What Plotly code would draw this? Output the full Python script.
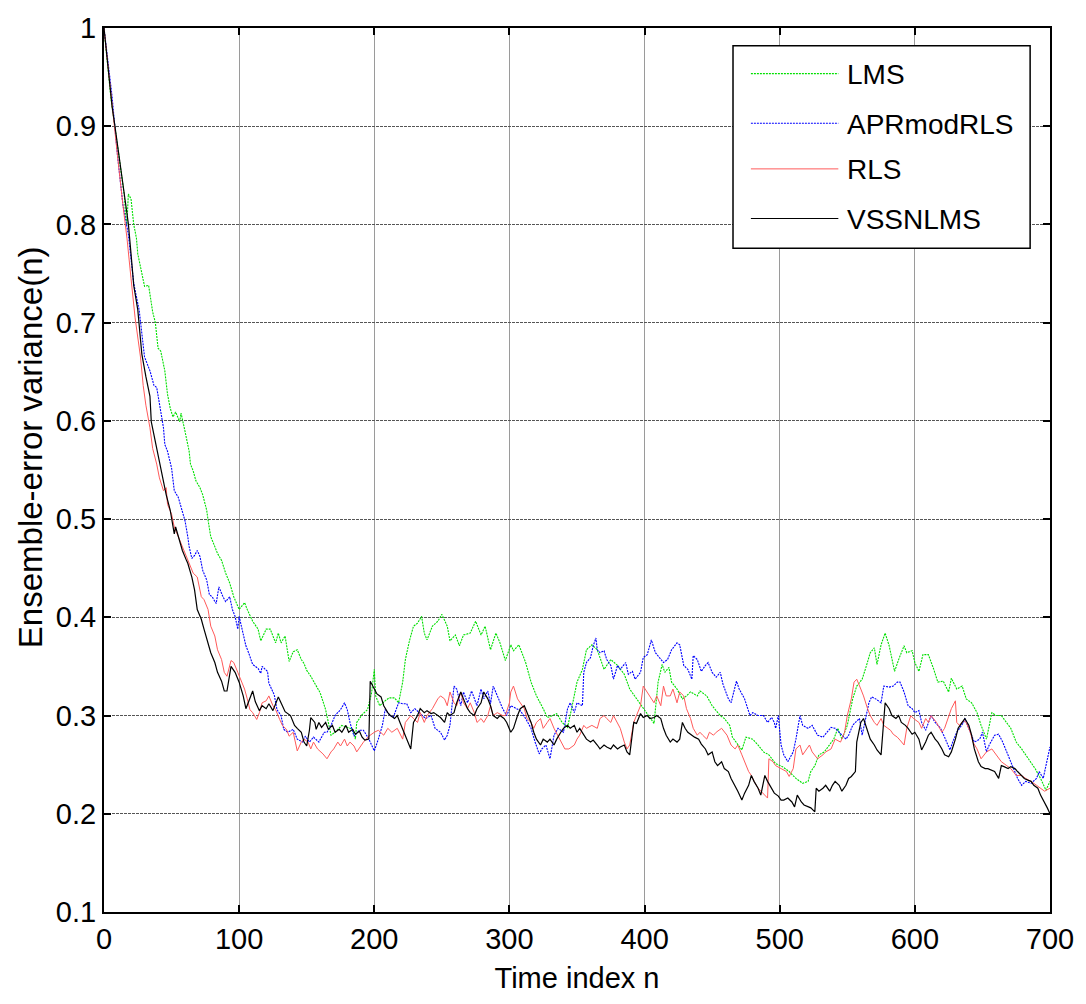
import plotly.graph_objects as go

# ---------------- data ----------------
lms_n = [0, 2, 5, 8, 11, 13, 15, 16, 17, 18, 20, 22, 24, 25, 28, 30, 33, 36, 38, 40, 42, 45, 47, 49, 51, 53, 56, 57, 60, 63, 64, 66, 68, 71, 73, 76, 77, 79, 82, 84, 87, 90, 93, 96, 100, 104, 106, 110, 114, 116, 120, 123, 127, 129, 131, 134, 137, 140, 143, 146, 148, 150, 153, 157, 160, 164, 166, 168, 171, 176, 180, 184, 186, 187, 191, 195, 198, 200, 201, 204, 208, 211, 215, 218, 221, 223, 226, 229, 232, 235, 237, 239, 243, 247, 250, 254, 256, 260, 263, 266, 271, 275, 279, 282, 286, 290, 293, 297, 301, 303, 307, 312, 316, 320, 325, 328, 332, 335, 339, 343, 346, 350, 354, 357, 361, 365, 370, 375, 380, 385, 389, 394, 399, 404, 407, 410, 413, 415, 418, 420, 424, 428, 431, 434, 439, 441, 446, 450, 453, 456, 459, 463, 465, 469, 472, 475, 480, 484, 488, 492, 497, 502, 507, 512, 517, 521, 523, 526, 529, 533, 537, 540, 543, 546, 550, 554, 557, 561, 564, 567, 570, 572, 575, 578, 581, 585, 588, 592, 594, 598, 600, 603, 606, 610, 614, 617, 621, 625, 627, 631, 635, 638, 642, 646, 649, 653, 657, 660, 664, 668, 671, 675, 679, 684, 689, 693, 697, 700]
lms_v = [1.0, 0.97, 0.93, 0.90, 0.87, 0.853, 0.83, 0.81, 0.80, 0.831, 0.826, 0.80, 0.786, 0.77, 0.752, 0.737, 0.738, 0.711, 0.70, 0.674, 0.671, 0.651, 0.627, 0.613, 0.604, 0.609, 0.599, 0.608, 0.589, 0.569, 0.556, 0.549, 0.539, 0.532, 0.525, 0.509, 0.499, 0.482, 0.472, 0.465, 0.458, 0.445, 0.435, 0.421, 0.408, 0.415, 0.408, 0.396, 0.388, 0.376, 0.388, 0.388, 0.374, 0.384, 0.374, 0.381, 0.355, 0.365, 0.367, 0.357, 0.353, 0.346, 0.340, 0.330, 0.323, 0.306, 0.293, 0.280, 0.283, 0.290, 0.288, 0.286, 0.276, 0.293, 0.301, 0.306, 0.323, 0.347, 0.320, 0.310, 0.315, 0.318, 0.318, 0.313, 0.334, 0.357, 0.376, 0.391, 0.394, 0.401, 0.384, 0.377, 0.391, 0.396, 0.403, 0.391, 0.376, 0.382, 0.371, 0.382, 0.384, 0.396, 0.382, 0.391, 0.367, 0.384, 0.374, 0.356, 0.372, 0.366, 0.372, 0.354, 0.334, 0.320, 0.307, 0.298, 0.300, 0.302, 0.293, 0.288, 0.307, 0.334, 0.347, 0.367, 0.372, 0.367, 0.347, 0.357, 0.351, 0.342, 0.327, 0.317, 0.307, 0.297, 0.292, 0.334, 0.352, 0.344, 0.349, 0.334, 0.327, 0.317, 0.320, 0.324, 0.320, 0.325, 0.320, 0.310, 0.305, 0.300, 0.297, 0.290, 0.278, 0.270, 0.265, 0.278, 0.276, 0.270, 0.263, 0.260, 0.251, 0.248, 0.243, 0.236, 0.231, 0.233, 0.243, 0.249, 0.260, 0.263, 0.270, 0.276, 0.287, 0.276, 0.290, 0.317, 0.330, 0.337, 0.350, 0.364, 0.369, 0.352, 0.372, 0.384, 0.371, 0.345, 0.357, 0.371, 0.364, 0.366, 0.354, 0.345, 0.362, 0.362, 0.347, 0.334, 0.335, 0.324, 0.338, 0.327, 0.330, 0.317, 0.313, 0.303, 0.290, 0.276, 0.303, 0.300, 0.300, 0.293, 0.287, 0.273, 0.266, 0.256, 0.246, 0.236, 0.224, 0.233]

apr_n = [0, 3, 6, 10, 14, 18, 22, 26, 30, 34, 37, 39, 41, 44, 45, 47, 50, 52, 55, 58, 60, 62, 63, 65, 67, 69, 71, 73, 76, 78, 80, 83, 85, 88, 90, 93, 95, 97, 99, 100, 103, 105, 107, 110, 114, 116, 117, 121, 122, 126, 128, 131, 133, 136, 140, 143, 147, 149, 152, 155, 159, 163, 165, 168, 171, 175, 178, 180, 182, 185, 189, 192, 196, 198, 200, 203, 206, 208, 211, 214, 218, 221, 224, 227, 230, 234, 238, 242, 245, 249, 252, 254, 256, 259, 261, 264, 266, 269, 272, 276, 279, 281, 284, 286, 288, 292, 295, 298, 301, 304, 308, 312, 316, 319, 322, 324, 327, 330, 333, 336, 340, 343, 345, 348, 350, 354, 355, 357, 360, 362, 364, 365, 367, 370, 372, 375, 377, 380, 382, 386, 388, 391, 393, 397, 399, 402, 405, 408, 412, 414, 417, 420, 424, 426, 429, 432, 435, 436, 439, 442, 445, 447, 450, 453, 456, 458, 462, 464, 468, 470, 474, 478, 480, 484, 488, 491, 494, 496, 497, 499, 501, 503, 506, 510, 512, 515, 517, 521, 524, 528, 532, 534, 538, 541, 545, 549, 551, 554, 556, 559, 561, 564, 566, 568, 571, 575, 577, 581, 584, 587, 589, 592, 595, 598, 600, 603, 605, 608, 610, 612, 615, 619, 622, 626, 628, 631, 633, 636, 637, 640, 644, 648, 650, 653, 655, 659, 662, 665, 669, 673, 676, 679, 682, 686, 690, 692, 695, 697, 700]
apr_v = [1.0, 0.965, 0.93, 0.87, 0.82, 0.79, 0.74, 0.713, 0.665, 0.651, 0.636, 0.634, 0.616, 0.593, 0.576, 0.569, 0.552, 0.529, 0.522, 0.509, 0.498, 0.482, 0.472, 0.460, 0.463, 0.468, 0.462, 0.448, 0.438, 0.423, 0.421, 0.414, 0.431, 0.421, 0.416, 0.421, 0.408, 0.401, 0.388, 0.401, 0.381, 0.371, 0.364, 0.352, 0.348, 0.343, 0.350, 0.345, 0.333, 0.321, 0.306, 0.300, 0.286, 0.283, 0.286, 0.276, 0.273, 0.279, 0.273, 0.278, 0.273, 0.283, 0.283, 0.290, 0.300, 0.306, 0.313, 0.306, 0.293, 0.279, 0.285, 0.285, 0.276, 0.269, 0.264, 0.276, 0.290, 0.306, 0.301, 0.298, 0.313, 0.312, 0.312, 0.303, 0.307, 0.302, 0.297, 0.300, 0.287, 0.283, 0.275, 0.280, 0.290, 0.330, 0.327, 0.310, 0.324, 0.313, 0.325, 0.310, 0.327, 0.317, 0.325, 0.312, 0.330, 0.317, 0.307, 0.300, 0.310, 0.308, 0.305, 0.297, 0.287, 0.273, 0.261, 0.266, 0.270, 0.256, 0.280, 0.287, 0.283, 0.307, 0.313, 0.303, 0.313, 0.310, 0.344, 0.354, 0.359, 0.371, 0.379, 0.367, 0.364, 0.366, 0.357, 0.351, 0.337, 0.351, 0.347, 0.354, 0.342, 0.345, 0.337, 0.344, 0.359, 0.362, 0.377, 0.364, 0.357, 0.354, 0.357, 0.367, 0.374, 0.372, 0.351, 0.347, 0.337, 0.361, 0.357, 0.345, 0.351, 0.354, 0.344, 0.339, 0.344, 0.332, 0.317, 0.313, 0.335, 0.327, 0.317, 0.300, 0.303, 0.300, 0.300, 0.293, 0.298, 0.293, 0.287, 0.300, 0.270, 0.260, 0.253, 0.263, 0.276, 0.300, 0.290, 0.287, 0.290, 0.280, 0.278, 0.281, 0.288, 0.287, 0.281, 0.276, 0.280, 0.290, 0.293, 0.297, 0.280, 0.300, 0.313, 0.319, 0.317, 0.313, 0.330, 0.329, 0.330, 0.334, 0.334, 0.324, 0.310, 0.307, 0.303, 0.305, 0.293, 0.285, 0.293, 0.300, 0.293, 0.287, 0.278, 0.265, 0.273, 0.283, 0.287, 0.293, 0.297, 0.287, 0.273, 0.276, 0.283, 0.263, 0.270, 0.280, 0.281, 0.273, 0.260, 0.246, 0.236, 0.229, 0.233, 0.231, 0.236, 0.243, 0.236, 0.249, 0.268]

rls_n = [0, 3, 5, 10, 14, 17, 20, 23, 27, 29, 31, 34, 36, 39, 41, 44, 46, 47, 50, 52, 55, 58, 62, 66, 69, 72, 74, 77, 79, 82, 84, 87, 89, 91, 94, 96, 99, 101, 104, 106, 108, 110, 113, 115, 117, 120, 122, 125, 127, 130, 132, 135, 137, 140, 143, 146, 148, 151, 153, 155, 158, 162, 165, 168, 170, 173, 175, 178, 180, 182, 185, 187, 190, 192, 196, 200, 203, 207, 210, 213, 217, 221, 223, 227, 229, 232, 234, 237, 239, 243, 247, 249, 252, 254, 256, 259, 261, 264, 266, 269, 271, 274, 276, 279, 281, 284, 286, 288, 291, 295, 297, 300, 301, 303, 306, 308, 311, 313, 316, 318, 320, 323, 325, 328, 330, 333, 337, 339, 341, 344, 348, 350, 352, 355, 357, 361, 365, 367, 370, 372, 375, 377, 380, 382, 385, 387, 389, 392, 394, 397, 399, 402, 404, 407, 409, 412, 414, 416, 419, 421, 424, 426, 429, 431, 434, 436, 439, 441, 443, 446, 448, 451, 453, 457, 461, 464, 467, 469, 472, 474, 477, 479, 481, 484, 486, 489, 491, 492, 495, 497, 501, 505, 507, 510, 512, 515, 517, 520, 522, 524, 528, 532, 534, 538, 541, 545, 548, 550, 553, 555, 557, 560, 562, 565, 567, 570, 572, 575, 577, 580, 582, 584, 587, 589, 592, 594, 597, 599, 603, 605, 608, 610, 612, 616, 620, 622, 625, 627, 630, 631, 633, 636, 638, 641, 643, 646, 649, 653, 657, 660, 664, 668, 671, 675, 679, 682, 686, 690, 693, 696, 700]
rls_v = [1.0, 0.96, 0.93, 0.87, 0.82, 0.786, 0.745, 0.705, 0.665, 0.636, 0.616, 0.593, 0.572, 0.556, 0.542, 0.529, 0.532, 0.515, 0.505, 0.492, 0.482, 0.472, 0.458, 0.445, 0.441, 0.421, 0.418, 0.408, 0.391, 0.381, 0.367, 0.357, 0.344, 0.340, 0.356, 0.354, 0.344, 0.337, 0.327, 0.317, 0.306, 0.303, 0.296, 0.303, 0.313, 0.315, 0.320, 0.310, 0.306, 0.296, 0.290, 0.286, 0.279, 0.283, 0.264, 0.273, 0.276, 0.273, 0.266, 0.273, 0.266, 0.261, 0.256, 0.263, 0.266, 0.273, 0.269, 0.276, 0.269, 0.273, 0.269, 0.263, 0.269, 0.273, 0.279, 0.283, 0.285, 0.280, 0.287, 0.283, 0.287, 0.276, 0.293, 0.300, 0.297, 0.293, 0.303, 0.293, 0.300, 0.307, 0.317, 0.320, 0.317, 0.310, 0.324, 0.313, 0.310, 0.324, 0.313, 0.307, 0.313, 0.303, 0.293, 0.297, 0.293, 0.300, 0.310, 0.300, 0.303, 0.300, 0.300, 0.313, 0.324, 0.330, 0.317, 0.313, 0.307, 0.297, 0.293, 0.287, 0.293, 0.297, 0.287, 0.293, 0.297, 0.287, 0.276, 0.270, 0.266, 0.266, 0.270, 0.276, 0.280, 0.290, 0.287, 0.290, 0.287, 0.297, 0.300, 0.297, 0.293, 0.300, 0.293, 0.287, 0.273, 0.266, 0.270, 0.293, 0.300, 0.310, 0.330, 0.324, 0.320, 0.313, 0.320, 0.310, 0.330, 0.320, 0.320, 0.327, 0.313, 0.324, 0.320, 0.307, 0.297, 0.287, 0.280, 0.283, 0.280, 0.276, 0.283, 0.280, 0.283, 0.287, 0.280, 0.270, 0.266, 0.270, 0.260, 0.253, 0.243, 0.239, 0.233, 0.226, 0.223, 0.219, 0.216, 0.256, 0.253, 0.249, 0.246, 0.243, 0.238, 0.246, 0.266, 0.270, 0.260, 0.266, 0.270, 0.263, 0.256, 0.260, 0.263, 0.266, 0.276, 0.273, 0.283, 0.300, 0.317, 0.334, 0.337, 0.327, 0.320, 0.307, 0.300, 0.293, 0.290, 0.297, 0.290, 0.287, 0.285, 0.281, 0.278, 0.275, 0.270, 0.287, 0.300, 0.297, 0.293, 0.287, 0.297, 0.293, 0.300, 0.293, 0.283, 0.287, 0.300, 0.307, 0.315, 0.293, 0.290, 0.295, 0.293, 0.283, 0.273, 0.266, 0.256, 0.263, 0.266, 0.260, 0.253, 0.249, 0.246, 0.239, 0.239, 0.236, 0.233, 0.229, 0.226, 0.223, 0.226]

vss_n = [0, 3, 6, 8, 11, 14, 18, 20, 22, 25, 28, 31, 34, 35, 38, 41, 44, 46, 49, 51, 52, 53, 56, 58, 61, 62, 65, 67, 69, 72, 74, 77, 79, 82, 84, 87, 89, 91, 93, 94, 97, 100, 103, 105, 107, 110, 112, 115, 117, 120, 122, 125, 127, 129, 132, 134, 138, 141, 143, 146, 148, 150, 152, 153, 156, 157, 159, 161, 164, 166, 169, 171, 174, 176, 179, 181, 184, 186, 189, 191, 193, 196, 197, 199, 202, 205, 207, 210, 212, 215, 217, 219, 222, 224, 227, 229, 232, 234, 237, 239, 242, 244, 247, 249, 252, 254, 256, 259, 261, 264, 266, 269, 271, 274, 276, 279, 281, 284, 286, 288, 291, 293, 296, 298, 301, 303, 306, 308, 311, 313, 316, 318, 320, 323, 325, 328, 330, 333, 335, 338, 340, 343, 345, 348, 350, 352, 355, 357, 360, 362, 365, 367, 370, 372, 375, 377, 380, 382, 385, 387, 389, 391, 392, 394, 397, 399, 402, 404, 407, 409, 412, 414, 416, 419, 421, 424, 426, 428, 430, 432, 435, 437, 440, 442, 445, 447, 450, 452, 454, 457, 459, 462, 464, 467, 469, 472, 474, 477, 479, 481, 484, 486, 489, 491, 494, 496, 499, 501, 503, 506, 509, 511, 513, 516, 518, 521, 523, 526, 527, 529, 532, 534, 537, 539, 541, 544, 546, 549, 551, 553, 556, 557, 560, 562, 565, 567, 570, 572, 575, 577, 578, 581, 583, 586, 588, 590, 593, 595, 598, 600, 603, 605, 608, 610, 612, 615, 617, 620, 622, 625, 627, 630, 632, 635, 637, 640, 642, 644, 647, 649, 652, 654, 657, 659, 662, 664, 666, 669, 671, 674, 676, 679, 681, 684, 686, 688, 691, 693, 696, 698, 700]
vss_v = [1.0, 0.96, 0.92, 0.901, 0.87, 0.839, 0.801, 0.77, 0.738, 0.713, 0.668, 0.645, 0.625, 0.599, 0.579, 0.556, 0.539, 0.525, 0.509, 0.495, 0.485, 0.492, 0.478, 0.468, 0.458, 0.455, 0.441, 0.428, 0.408, 0.398, 0.388, 0.374, 0.364, 0.354, 0.344, 0.335, 0.325, 0.325, 0.340, 0.350, 0.344, 0.334, 0.320, 0.307, 0.314, 0.325, 0.314, 0.305, 0.310, 0.307, 0.312, 0.305, 0.312, 0.319, 0.310, 0.304, 0.300, 0.290, 0.287, 0.283, 0.273, 0.269, 0.285, 0.298, 0.293, 0.286, 0.293, 0.288, 0.293, 0.286, 0.290, 0.283, 0.286, 0.283, 0.290, 0.283, 0.286, 0.281, 0.284, 0.278, 0.275, 0.276, 0.335, 0.330, 0.322, 0.319, 0.310, 0.303, 0.300, 0.297, 0.300, 0.293, 0.283, 0.276, 0.266, 0.293, 0.300, 0.307, 0.303, 0.305, 0.302, 0.303, 0.300, 0.298, 0.293, 0.303, 0.300, 0.303, 0.313, 0.324, 0.317, 0.307, 0.303, 0.300, 0.307, 0.313, 0.324, 0.317, 0.310, 0.300, 0.297, 0.300, 0.297, 0.293, 0.283, 0.287, 0.300, 0.307, 0.310, 0.303, 0.293, 0.283, 0.276, 0.270, 0.276, 0.273, 0.276, 0.270, 0.276, 0.283, 0.287, 0.290, 0.287, 0.290, 0.283, 0.287, 0.280, 0.276, 0.273, 0.275, 0.270, 0.266, 0.270, 0.268, 0.266, 0.270, 0.266, 0.268, 0.270, 0.263, 0.260, 0.283, 0.293, 0.292, 0.302, 0.298, 0.300, 0.297, 0.298, 0.300, 0.297, 0.287, 0.280, 0.273, 0.276, 0.273, 0.276, 0.293, 0.287, 0.283, 0.280, 0.278, 0.276, 0.271, 0.266, 0.260, 0.263, 0.253, 0.249, 0.253, 0.246, 0.243, 0.236, 0.229, 0.223, 0.214, 0.221, 0.229, 0.239, 0.233, 0.226, 0.219, 0.239, 0.233, 0.226, 0.221, 0.218, 0.214, 0.214, 0.216, 0.212, 0.207, 0.219, 0.212, 0.209, 0.207, 0.206, 0.202, 0.226, 0.223, 0.226, 0.229, 0.223, 0.229, 0.233, 0.229, 0.223, 0.229, 0.236, 0.238, 0.243, 0.273, 0.293, 0.297, 0.283, 0.276, 0.270, 0.265, 0.260, 0.300, 0.313, 0.307, 0.300, 0.297, 0.300, 0.293, 0.290, 0.287, 0.281, 0.283, 0.276, 0.265, 0.273, 0.280, 0.283, 0.276, 0.273, 0.266, 0.260, 0.258, 0.263, 0.276, 0.287, 0.293, 0.297, 0.290, 0.280, 0.266, 0.253, 0.248, 0.246, 0.246, 0.244, 0.243, 0.236, 0.249, 0.248, 0.246, 0.248, 0.246, 0.243, 0.239, 0.236, 0.234, 0.233, 0.229, 0.226, 0.219, 0.212, 0.206, 0.200]

series_names = ["LMS", "APRmodRLS", "RLS", "VSSNLMS"]
x_ticks = [0, 100, 200, 300, 400, 500, 600, 700]
x_tick_labels = ["0", "100", "200", "300", "400", "500", "600", "700"]
y_ticks = [0.1, 0.2, 0.3, 0.4, 0.5, 0.6, 0.7, 0.8, 0.9, 1.0]
y_tick_labels = ["0.1", "0.2", "0.3", "0.4", "0.5", "0.6", "0.7", "0.8", "0.9", "1"]
x_title = "Time index n"
y_title = "Ensemble-error variance(n)"

# ---------------- styling ----------------
FONT = "Liberation Sans, Arial, sans-serif"
styles = [
    dict(color="#00e000", width=1.1, dash="2px,1px"),
    dict(color="#0000ff", width=1.1, dash="2px,1px"),
    dict(color="#ff5a5a", width=1.0, dash="solid"),
    dict(color="#000000", width=1.2, dash="solid"),
]

fig = go.Figure()
for name, xs, ys, st in zip(series_names, [lms_n, apr_n, rls_n, vss_n],
                            [lms_v, apr_v, rls_v, vss_v], styles):
    fig.add_trace(go.Scatter(x=xs, y=ys, mode="lines", name=name,
                             line=st, showlegend=False))

# plot-area geometry in pixels
L, R, T, B = 104, 1056, 21, 912
W, H = R - L, B - T
def px(x):
    return (x - L) / W
def py(y):
    return (B - y) / H

# manual legend (MATLAB-style long line samples)
shapes = [dict(type="rect", xref="paper", yref="paper",
               x0=px(737), x1=px(1036), y0=py(243), y1=py(39),
               line=dict(color="black", width=1.5), fillcolor="white", layer="above")]
annotations = []
rows = [67, 117, 163, 213]
for name, st, ry in zip(series_names, styles, rows):
    shapes.append(dict(type="line", xref="paper", yref="paper",
                       x0=px(755), x1=px(843), y0=py(ry), y1=py(ry),
                       line=st, layer="above"))
    annotations.append(dict(xref="paper", yref="paper", x=px(850), y=py(ry + 1),
                            text=name, showarrow=False, xanchor="left", yanchor="middle",
                            font=dict(family=FONT, size=28, color="black")))

# y-axis title placed like the MATLAB original
annotations.append(dict(xref="paper", yref="paper", x=px(30), y=py(443),
                        text=y_title, textangle=-90, showarrow=False,
                        xanchor="center", yanchor="middle",
                        font=dict(family=FONT, size=33, color="black")))

fig.update_layout(
    width=1086, height=1004,
    margin=dict(l=L, r=1086 - R, t=T, b=1004 - B),
    paper_bgcolor="white", plot_bgcolor="white",
    shapes=shapes, annotations=annotations,
    font=dict(family=FONT, size=29, color="black"),
)
fig.update_xaxes(
    range=[0, 700], tickvals=x_ticks, ticktext=x_tick_labels,
    showline=True, linecolor="black", linewidth=2, mirror="ticks",
    ticks="inside", ticklen=7, tickwidth=2, tickcolor="black",
    showgrid=True, gridcolor="#9a9a9a", gridwidth=1,
    zeroline=False,
    tickfont=dict(family=FONT, size=29),
    title=dict(text=x_title, font=dict(family=FONT, size=29), standoff=14),
)
fig.update_yaxes(
    range=[0.1, 1.0], tickvals=y_ticks, ticktext=y_tick_labels,
    showline=True, linecolor="black", linewidth=2, mirror="ticks",
    ticks="inside", ticklen=7, tickwidth=2, tickcolor="black",
    showgrid=True, gridcolor="#555555", gridwidth=1, griddash="3px,1px",
    zeroline=False,
    tickfont=dict(family=FONT, size=29),
)

fig.write_html("out.html")
